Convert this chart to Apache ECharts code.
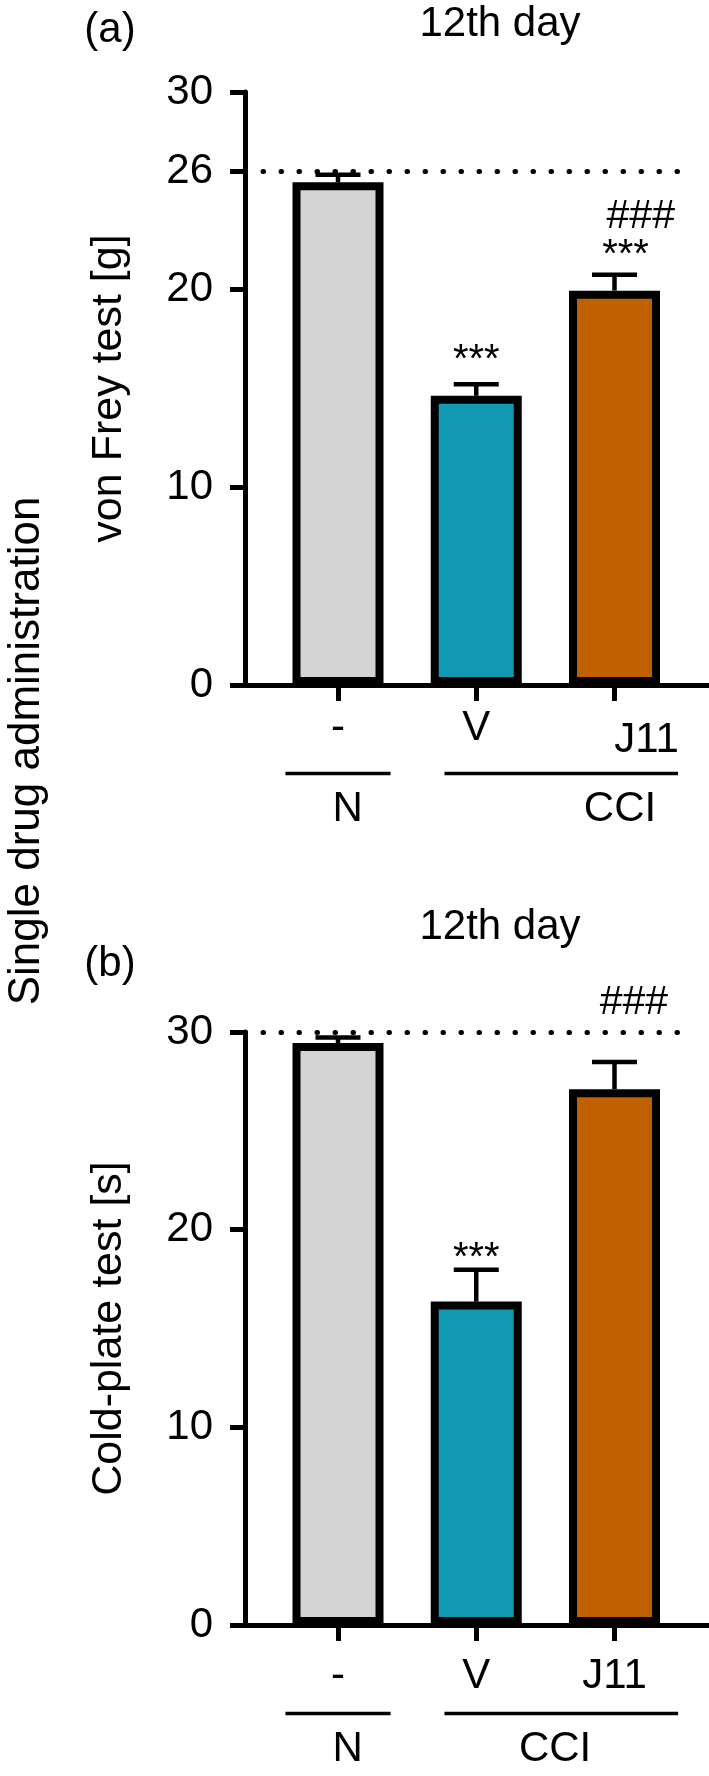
<!DOCTYPE html>
<html><head><meta charset="utf-8">
<script src="https://cdn.jsdelivr.net/npm/echarts@6/dist/echarts.min.js"></script>
<style>html,body{margin:0;padding:0;background:#fff}#c{width:709px;height:1776px}</style>
</head><body><div id="c"></div>
<script>
// ---------- data ----------
const groups = ['-', 'V', 'J11'];
const barColors = ['#d4d4d4', '#129ab4', '#c06000'];
const vonFreyMean = [25.43, 14.63, 19.95];
const vonFreySem = [0.38, 0.59, 0.80];
const coldPlateMean = [29.44, 16.36, 27.11];
const coldPlateSem = [0.28, 1.61, 1.37];
const vonFreyTicks = [0, 10, 20, 26, 30];
const coldPlateTicks = [0, 10, 20, 30];
const vonFreyRef = 26;
const coldPlateRef = 30;
const treatNames = ['N', 'CCI'];
const treatSpan = [[0.62, 1.38], [1.77, 3.46]];
const treatLabelXA = [1.07, 3.04];
const treatLabelXB = [1.07, 2.57];
const sigTextA = ['***', '***', '###'];
const sigXA = [2.0, 3.08, 3.19];
const sigYA = [16.4, 21.7, 23.7];
const sigTextB = ['***', '###'];
const sigXB = [2.0, 3.14];
const sigYB = [18.5, 31.5];

// ---------- layout/style ----------
const FF = '"Liberation Sans", Arial, Helvetica, sans-serif';
const XMIN = 0.3273, XMAX = 3.6835;

function panel(i, cfg) {
  const grid = { left: 245, right: 0, top: cfg.top, height: 593 };
  const xAxis = {
    gridIndex: i, type: 'value', min: XMIN, max: XMAX,
    axisLine: { show: true, onZero: false, lineStyle: { color: '#000', width: 5 } },
    axisTick: { show: true, customValues: [1, 2, 3], length: 16, lineStyle: { color: '#000', width: 5 } },
    splitLine: { show: false },
    axisLabel: {
      customValues: [1, 2, 3], margin: cfg.xLabelMargin, color: '#000', fontSize: 42, fontFamily: FF,
      formatter: v => (cfg.shiftJ11 && v === 3) ? '{s|' + groups[2] + '}' : groups[Math.round(v) - 1],
      rich: { s: { fontSize: 42, fontFamily: FF, color: '#000', padding: [12, 0, 0, 64] } }
    }
  };
  const yAxis = {
    gridIndex: i, type: 'value', min: 0, max: 30,
    name: cfg.yName, nameLocation: 'middle', nameRotate: 90, nameGap: 114,
    nameTextStyle: { fontSize: 43, fontFamily: FF, color: '#000' },
    axisLine: { show: true, lineStyle: { color: '#000', width: 5 } },
    axisTick: { show: true, customValues: cfg.ticks, length: 15, lineStyle: { color: '#000', width: 5 } },
    splitLine: { show: false },
    axisLabel: { customValues: cfg.ticks, margin: 32, color: '#000', fontSize: 42, fontFamily: FF }
  };
  const series = [
    {
      type: 'bar', xAxisIndex: i, yAxisIndex: i, barWidth: 91, z: 2,
      data: cfg.mean.map((m, k) => ({ value: [k + 1, m], itemStyle: { color: barColors[k] } })),
      itemStyle: { borderColor: '#000', borderWidth: 8 },
      markLine: {
        silent: true, symbol: ['none', 'none'], label: { show: false }, z: 5,
        lineStyle: { color: '#000', width: 5, type: [0.5, 17.5], cap: 'round' },
        data: [[{ coord: [0.4575, cfg.ref] }, { coord: [3.566, cfg.ref] }]]
      }
    },
    {
      type: 'custom', xAxisIndex: i, yAxisIndex: i, z: 3, clip: false,
      data: cfg.mean.map((m, k) => [k + 1, m, m + cfg.sem[k]]),
      encode: { x: 0, y: [1, 2] },
      renderItem: (p, api) => {
        const b = api.coord([api.value(0), api.value(1)]);
        const t = api.coord([api.value(0), api.value(2)]);
        const hw = 22.5;
        return { type: 'group', children: [
          { type: 'line', shape: { x1: b[0], y1: b[1], x2: t[0], y2: t[1] }, style: { stroke: '#000', lineWidth: 4.5 } },
          { type: 'line', shape: { x1: t[0] - hw, y1: t[1], x2: t[0] + hw, y2: t[1] }, style: { stroke: '#000', lineWidth: 4.5 } }
        ] };
      }
    },
    {
      type: 'custom', xAxisIndex: i, yAxisIndex: i, z: 4, clip: false,
      data: cfg.sigX.map((x, k) => [x, cfg.sigY[k]]),
      encode: { x: 0, y: 1 },
      renderItem: (p, api) => {
        const c = api.coord([api.value(0), api.value(1)]);
        const txt = cfg.sigText[p.dataIndex];
        return { type: 'text', style: { text: txt, x: c[0], y: c[1], fill: '#000',
          font: (txt === '###' ? '41px ' : '40px ') + FF, align: 'center', verticalAlign: 'middle' } };
      }
    },
    {
      type: 'custom', xAxisIndex: i, yAxisIndex: i, z: 4, clip: false,
      data: treatSpan.map((s, k) => [s[0], s[1], cfg.treatLabelX[k], 0]),
      encode: { x: [0, 1, 2], y: 3 },
      renderItem: (p, api) => {
        const y0 = api.coord([1, 0])[1];
        const l = api.coord([api.value(0), 0])[0];
        const r = api.coord([api.value(1), 0])[0];
        const lx = api.coord([api.value(2), 0])[0];
        return { type: 'group', children: [
          { type: 'line', shape: { x1: l, y1: y0 + 88.5, x2: r, y2: y0 + 88.5 }, style: { stroke: '#000', lineWidth: 3.5 } },
          { type: 'text', style: { text: treatNames[p.dataIndex], x: lx, y: y0 + 103, fill: '#000',
            font: '42px ' + FF, align: 'center', verticalAlign: 'top' } }
        ] };
      }
    }
  ];
  return { grid, xAxis, yAxis, series };
}

const A = panel(0, { top: 92, xLabelMargin: 22, shiftJ11: true, yName: 'von Frey test [g]', ticks: vonFreyTicks,
  mean: vonFreyMean, sem: vonFreySem, ref: vonFreyRef, sigX: sigXA, sigY: sigYA, sigText: sigTextA, treatLabelX: treatLabelXA });
const B = panel(1, { top: 1032, xLabelMargin: 30, shiftJ11: false, yName: 'Cold-plate test [s]', ticks: coldPlateTicks,
  mean: coldPlateMean, sem: coldPlateSem, ref: coldPlateRef, sigX: sigXB, sigY: sigYB, sigText: sigTextB, treatLabelX: treatLabelXB });

const txt = (text, x, y, size, rot) => ({ type: 'text', x, y, rotation: rot || 0,
  style: { text, fill: '#000', font: size + 'px ' + FF, align: 'center', verticalAlign: 'middle' } });

const chart = echarts.init(document.getElementById('c'), null, { renderer: 'canvas' });
chart.setOption({
  animation: false,
  backgroundColor: '#fff',
  grid: [A.grid, B.grid],
  xAxis: [A.xAxis, B.xAxis],
  yAxis: [A.yAxis, B.yAxis],
  series: [...A.series, ...B.series],
  graphic: [
    txt('(a)', 110, 30, 42),
    txt('12th day', 500, 24, 42),
    txt('(b)', 110, 964, 42),
    txt('12th day', 500, 927, 42),
    txt('Single drug administration', 27, 751, 44, Math.PI / 2)
  ]
});
</script></body></html>
